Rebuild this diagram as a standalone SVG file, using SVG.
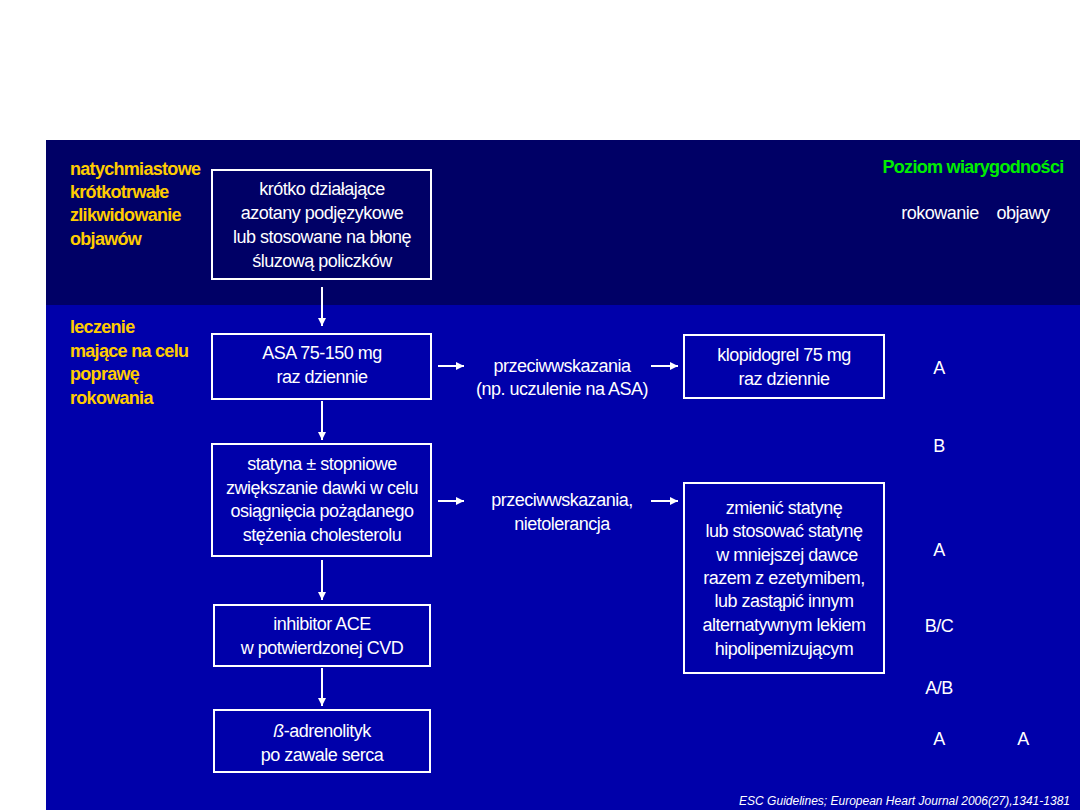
<svg xmlns="http://www.w3.org/2000/svg" width="1080" height="810" viewBox="0 0 1080 810">
<defs>
<marker id="ah" viewBox="0 0 10 10" refX="10" refY="5" markerWidth="4" markerHeight="4" orient="auto" markerUnits="strokeWidth">
<path d="M0,0 L10,5 L0,10 z" fill="#FFFFFF"/>
</marker>
<style>
.box{fill:none;stroke:#FFFFFF;stroke-width:2}
.t{font-family:"Liberation Sans",Arial,sans-serif;font-size:18px;fill:#FFFFFF;text-anchor:middle;letter-spacing:-0.5px}
.y{font-family:"Liberation Sans",Arial,sans-serif;font-size:18px;font-weight:bold;fill:#FFCC00;letter-spacing:-0.7px}
.g{font-family:"Liberation Sans",Arial,sans-serif;font-size:18px;font-weight:bold;fill:#00EE00;text-anchor:middle;letter-spacing:-0.7px}
.c{stroke:#FFFFFF;stroke-width:2;fill:none;marker-end:url(#ah)}
.f{font-family:"Liberation Sans",Arial,sans-serif;font-size:12px;font-style:italic;fill:#FFFFFF;text-anchor:end;letter-spacing:0px}
</style>
</defs>
<rect x="0" y="0" width="1080" height="810" fill="#FFFFFF"/>
<rect x="46" y="140" width="1034" height="165" fill="#000066"/>
<rect x="46" y="305" width="1034" height="505" fill="#0000AA"/>

<g id="label-top">
<text class="y" x="70" y="175">natychmiastowe</text>
<text class="y" x="70" y="198">krótkotrwałe</text>
<text class="y" x="70" y="221">zlikwidowanie</text>
<text class="y" x="70" y="245">objawów</text>
</g>
<g id="label-bottom">
<text class="y" x="70" y="333">leczenie</text>
<text class="y" x="70" y="357">mające na celu</text>
<text class="y" x="70" y="380">poprawę</text>
<text class="y" x="70" y="404">rokowania</text>
</g>
<g id="header">
<text class="g" x="973" y="173">Poziom wiarygodności</text>
<text class="t" x="940" y="219">rokowanie</text>
<text class="t" x="1023" y="219">objawy</text>
</g>

<g id="n-azotany">
<rect class="box" x="212" y="170" width="219" height="109"/>
<text class="t" x="322" y="195">krótko działające</text>
<text class="t" x="322" y="219">azotany podjęzykowe</text>
<text class="t" x="322" y="243">lub stosowane na błonę</text>
<text class="t" x="322" y="267">śluzową policzków</text>
</g>
<g id="n-asa">
<rect class="box" x="212" y="334" width="219" height="65"/>
<text class="t" x="322" y="359">ASA 75-150 mg</text>
<text class="t" x="322" y="383">raz dziennie</text>
</g>
<g id="n-p1">
<text class="t" x="562" y="372">przeciwwskazania</text>
<text class="t" x="562" y="395">(np. uczulenie na ASA)</text>
</g>
<g id="n-klopidogrel">
<rect class="box" x="684" y="335" width="200" height="63"/>
<text class="t" x="784" y="361">klopidogrel 75 mg</text>
<text class="t" x="784" y="385">raz dziennie</text>
</g>
<g id="n-statyna">
<rect class="box" x="212" y="444" width="219" height="112"/>
<text class="t" x="322" y="470">statyna ± stopniowe</text>
<text class="t" x="322" y="494">zwiększanie dawki w celu</text>
<text class="t" x="322" y="517">osiągnięcia pożądanego</text>
<text class="t" x="322" y="541">stężenia cholesterolu</text>
</g>
<g id="n-p2">
<text class="t" x="562" y="506">przeciwwskazania,</text>
<text class="t" x="562" y="530">nietolerancja</text>
</g>
<g id="n-zmienic">
<rect class="box" x="684" y="483" width="200" height="190"/>
<text class="t" x="784" y="514">zmienić statynę</text>
<text class="t" x="784" y="537">lub stosować statynę</text>
<text class="t" x="787" y="561">w mniejszej dawce</text>
<text class="t" x="784" y="584">razem z ezetymibem,</text>
<text class="t" x="784" y="607">lub zastąpić innym</text>
<text class="t" x="784" y="631">alternatywnym lekiem</text>
<text class="t" x="784" y="655">hipolipemizującym</text>
</g>
<g id="n-ace">
<rect class="box" x="214" y="605" width="216" height="61"/>
<text class="t" x="322" y="630">inhibitor ACE</text>
<text class="t" x="322" y="654">w potwierdzonej CVD</text>
</g>
<g id="n-beta">
<rect class="box" x="214" y="710" width="216" height="62"/>
<text class="t" x="322" y="737"><tspan font-style="italic">ß</tspan>-adrenolityk</text>
<text class="t" x="322" y="761">po zawale serca</text>
</g>

<g id="grades">
<text class="t" x="939" y="374">A</text>
<text class="t" x="939" y="452">B</text>
<text class="t" x="939" y="556">A</text>
<text class="t" x="939" y="632">B/C</text>
<text class="t" x="939" y="694">A/B</text>
<text class="t" x="939" y="745">A</text>
<text class="t" x="1023" y="745">A</text>
</g>

<g id="connectors">
<line class="c" x1="322" y1="287" x2="322" y2="326"/>
<line class="c" x1="322" y1="401" x2="322" y2="440"/>
<line class="c" x1="322" y1="560" x2="322" y2="600"/>
<line class="c" x1="322" y1="668" x2="322" y2="706"/>
<line class="c" x1="438" y1="366" x2="464" y2="366"/>
<line class="c" x1="651" y1="366" x2="678" y2="366"/>
<line class="c" x1="438" y1="501" x2="464" y2="501"/>
<line class="c" x1="651" y1="501" x2="678" y2="501"/>
</g>

<text class="f" x="1070" y="805">ESC Guidelines; European Heart Journal 2006(27),1341-1381</text>
</svg>
